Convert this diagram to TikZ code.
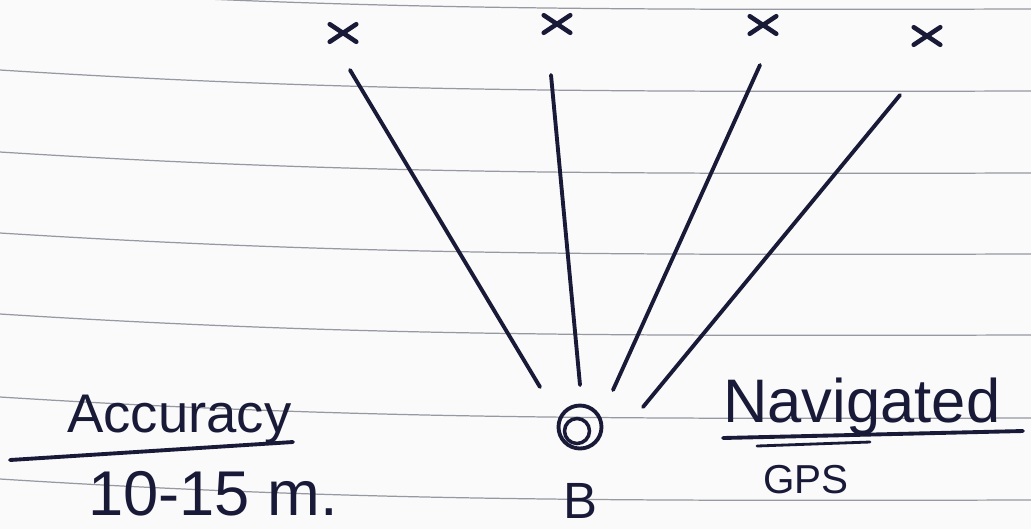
\documentclass[tikz,border=0pt]{standalone}
\usepackage{fontspec}
\setmainfont{Liberation Sans}
\usetikzlibrary{positioning,shapes.misc}
\definecolor{ink}{RGB}{24,26,56}
\definecolor{rulegray}{RGB}{150,152,162}
\definecolor{paper}{RGB}{250,250,250}

\begin{document}
\begin{tikzpicture}[
  x=0.02cm, y=-0.02cm,
  pen/.style={draw=ink, line width=2.2pt, line cap=round},
  ruled/.style={draw=rulegray, line width=0.7pt},
  sat/.style={cross out, draw=ink, line width=2.6pt, line cap=round, minimum width=0.44cm, minimum height=0.26cm, inner sep=0pt},
  hand/.style={text=ink, inner sep=0pt, anchor=base west}
]
  \fill[paper] (0,0) rectangle (1031,529);
  \useasboundingbox (0,0) rectangle (1031,529);
  \foreach \yl in {-12,70,152,233,314,397,479}
    \draw[ruled] (0,\yl) .. controls (350,\yl+22) and (600,\yl+22) .. (1031,\yl+21);

  \node[sat] (s1) at (343,33) {};
  \node[sat] (s2) at (557,24) {};
  \node[sat] (s3) at (763,25) {};
  \node[sat] (s4) at (927,36) {};

  \coordinate (t1) at (350,70);
  \coordinate (t2) at (551,75);
  \coordinate (t3) at (760,65);
  \coordinate (t4) at (900,95);
  \coordinate (b1) at (540,387);
  \coordinate (b2) at (580,385);
  \coordinate (b3) at (613,390);
  \coordinate (b4) at (643,407);
  \foreach \i in {1,...,4}
    \draw[pen] (t\i) -- (b\i);

  \node[circle, draw=ink, line width=2.2pt, minimum size=0.86cm, inner sep=0pt] (rx) at (580,427) {};
  \node[circle, draw=ink, line width=2pt, minimum size=0.5cm, inner sep=0pt] (rxin) at (577,431) {};
  \node[text=ink, inner sep=0pt, font=\fontsize{29}{33}\selectfont, below=0.66cm of rx] (blabel) {B};

  \node[hand, font=\fontsize{31}{36}\selectfont] (acc) at (67,432) {Accuracy};
  \draw[pen] (10,460) -- (293,442);
  \node[hand, font=\fontsize{36}{41}\selectfont] (range) at (88,515) {10-15 m.};

  \node[hand, font=\fontsize{35}{40}\selectfont] (nav) at (723,422) {Navigated};
  \draw[pen] (723,438) -- (1023,431);
  \draw[pen, line width=1.6pt] (757,446) -- (870,442);
  \node[hand, font=\fontsize{23}{27}\selectfont] (gps) at (763,493) {GPS};
\end{tikzpicture}
\end{document}
